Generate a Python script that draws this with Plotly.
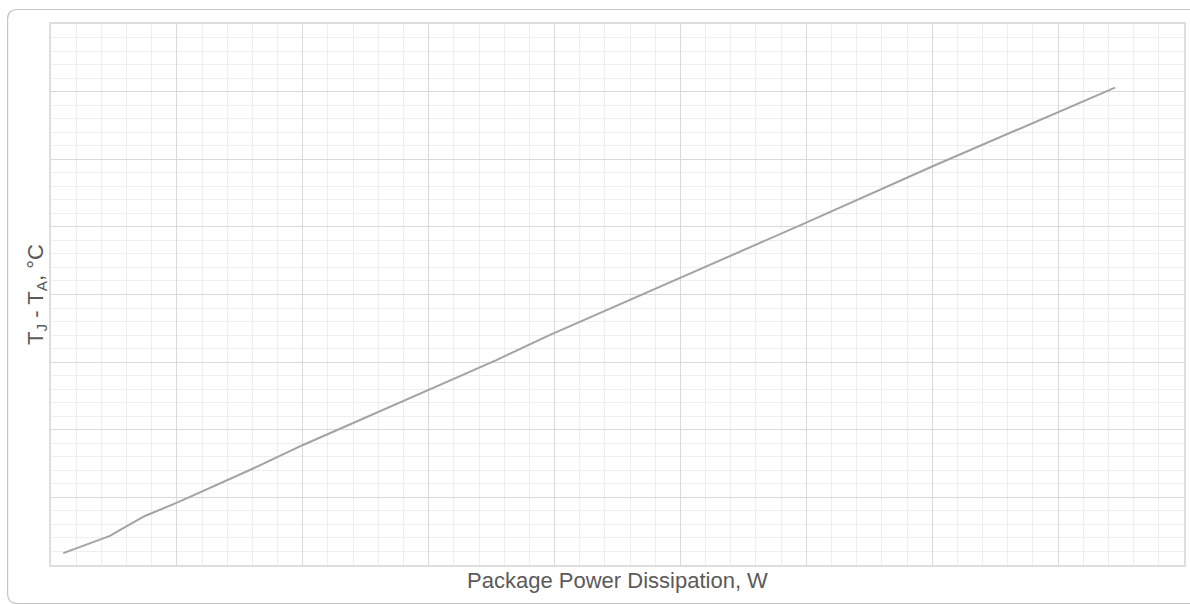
import plotly.graph_objects as go

# Data (tick labels are not shown on the chart)
power_w = [0.049, 0.234, 0.294, 0.373, 0.503, 0.790, 1.001, 1.504, 1.769, 1.980, 2.505, 3.004, 3.504, 4.004, 4.226]
delta_t_c = [3.5, 8.6, 11.2, 14.5, 18.5, 28.1, 35.5, 52.0, 60.6, 68.0, 85.1, 101.4, 118.0, 134.1, 141.2]

x_range = [0, 4.5]
y_range = [0, 160]

fig = go.Figure()
fig.add_trace(go.Scatter(
    x=power_w, y=delta_t_c, mode="lines",
    line=dict(color="#a3a3a3", width=2),
    hoverinfo="skip", showlegend=False,
))

W, H = 1190, 604
L, R, T, B = 51, 4, 24, 39
pw, ph = W - L - R, H - T - B


def P(px, py):
    return f"{(px - L) / pw:.5f},{(H - B - py) / ph:.5f}"


# rounded card border (clipped by the window on the right and bottom)
x0, y0, x1, y1, r = 7.5, 9.5, 1200, 603.5, 10
path = (f"M {P(x1, y0)} L {P(x0 + r, y0)} Q {P(x0, y0)} {P(x0, y0 + r)} "
        f"L {P(x0, y1 - r)} Q {P(x0, y1)} {P(x0 + r, y1)} L {P(x1, y1)}")

fig.update_layout(
    width=W, height=H,
    margin=dict(l=L, r=R, t=T, b=B),
    paper_bgcolor="white", plot_bgcolor="white",
    font=dict(family="Liberation Sans, Arial, sans-serif", color="#5a5a5a"),
    shapes=[dict(type="path", path=path, xref="paper", yref="paper",
                 line=dict(color="#c4c4c4", width=1.2), layer="below")],
    xaxis=dict(
        range=x_range, dtick=0.5, showticklabels=False, ticks="",
        showgrid=True, gridcolor="#d9d9d9", gridwidth=1.3,
        minor=dict(dtick=0.1, showgrid=True, gridcolor="#eeeeee", gridwidth=1),
        showline=True, linecolor="#dedede", linewidth=1.5, mirror=True,
        zeroline=False, fixedrange=True,
        title=dict(text="Package Power Dissipation, W", font=dict(size=22, color="#5a5a5a"), standoff=7),
    ),
    yaxis=dict(
        range=y_range, dtick=20, showticklabels=False, ticks="",
        showgrid=True, gridcolor="#d9d9d9", gridwidth=1.3,
        minor=dict(dtick=4, showgrid=True, gridcolor="#eeeeee", gridwidth=1),
        showline=True, linecolor="#dedede", linewidth=1.5, mirror=True,
        zeroline=False, fixedrange=True,
        title=dict(text="T<sub>J</sub> - T<sub>A</sub>, °C", font=dict(size=22, color="#5a5a5a"), standoff=0),
    ),
)

fig.write_html(
    "out.html",
    config={"displayModeBar": False},
    post_script="document.body.style.margin='0';document.body.style.overflow='hidden';",
)
